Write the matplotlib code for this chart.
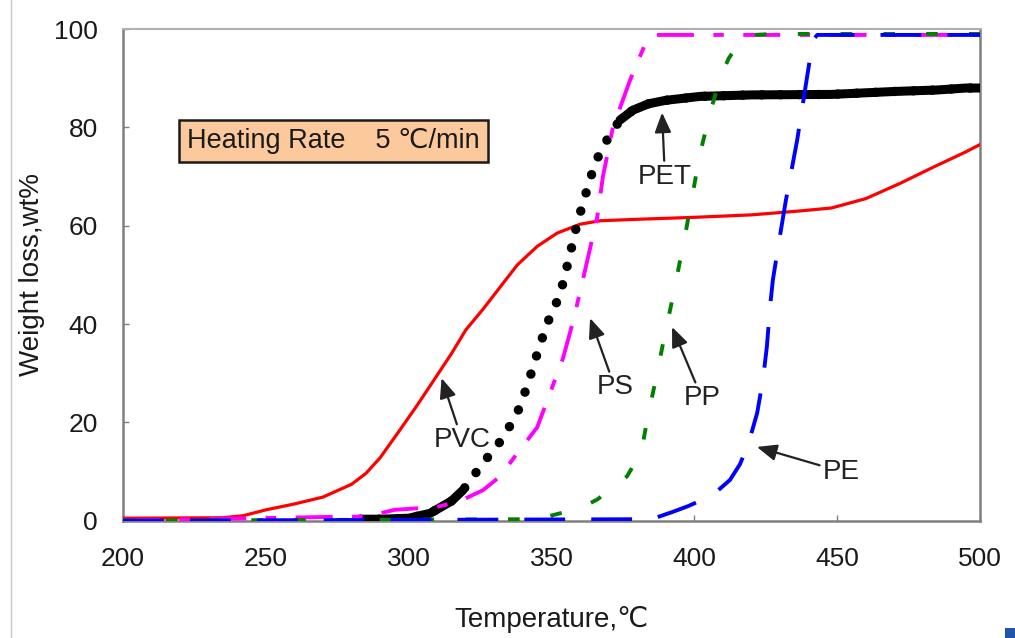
import numpy as np
import matplotlib.pyplot as plt
from matplotlib.lines import Line2D
from matplotlib.patches import Rectangle

plt.rcParams["font.family"] = ["Liberation Sans", "DejaVu Sans"]

# TGA weight loss curves
PVC_T = [200, 235, 242, 250, 260, 270, 280, 285, 290, 297, 303, 308.5, 315, 320, 326, 332,
         338, 345, 352, 360, 367, 380, 400, 420, 437, 448, 460, 472, 484, 495, 500]
PVC_W = [0.5, 0.6, 1.0, 2.2, 3.4, 4.8, 7.4, 9.6, 12.8, 18.5, 23.5, 28.3, 34.0, 38.8, 43.0, 47.5,
         52.0, 55.8, 58.5, 60.3, 61.0, 61.3, 61.7, 62.2, 63.0, 63.6, 65.5, 68.6, 72.0, 75.0, 76.5]

PET_T = [283, 290, 300, 307.5, 315, 319, 326, 333, 338, 341.4, 345, 348.4, 353, 356, 359,
         362, 364.5, 367, 370.5, 374, 378.5, 384, 390, 402, 420, 448, 470, 485, 495, 500]
PET_W = [0.3, 0.3, 0.5, 1.5, 4.0, 6.2, 11.7, 16.8, 21.9, 27.2, 34.0, 40.0, 46.0, 53.0, 60.5,
         66.5, 71.3, 75.0, 78.5, 81.5, 83.5, 84.8, 85.5, 86.3, 86.6, 86.7, 87.3, 87.6, 88.0, 88.0]

PS_T = [200, 275, 285, 295, 300, 305, 308, 318, 326, 332, 338, 345, 349.5, 354, 357.5,
        360.7, 366, 368, 371.5, 377.5, 383.4, 386, 500]
PS_W = [0.0, 0.8, 0.8, 2.2, 2.4, 2.6, 2.5, 4.0, 6.2, 9.0, 13.7, 19.0, 26.0, 33.0, 40.4,
        48.3, 61.7, 70.0, 80.0, 89.6, 97.8, 98.8, 98.8]

PP_T = [200, 345, 353, 360, 366, 371, 376.4, 380, 382, 384, 387, 389.7, 392.5, 397.4,
        402, 405.5, 409, 412, 416, 421, 427.5, 500]
PP_W = [0.0, 0.3, 1.5, 2.5, 4.3, 6.5, 9.0, 12.5, 15.8, 22.0, 30.0, 38.0, 45.5, 60.0,
        74.7, 82.9, 90.0, 94.0, 97.4, 98.8, 99.0, 99.0]

PE_T = [200, 385, 392.5, 398, 403, 408, 412.5, 416, 419, 422, 424, 425.4, 426.5, 427.5,
        430, 432, 436, 439.4, 441.5, 443, 500]
PE_W = [0.0, 0.3, 1.8, 3.0, 4.3, 6.0, 8.3, 11.5, 15.8, 21.9, 28.6, 35.4, 43.5, 49.0,
        58.0, 65.0, 77.4, 90.0, 97.7, 98.8, 98.8]

# label, text position, arrow tip
LABELS = ["PVC", "PS", "PP", "PE", "PET"]
LABEL_XY = [(318.7, 16.4), (372.2, 27.1), (402.7, 24.9), (451.3, 10.0), (389.7, 70.0)]
ARROW_XY = [(311.5, 29.0), (363.5, 41.2), (392.2, 39.4), (421.9, 15.0), (388.7, 83.0)]

X_TICKS = [200, 250, 300, 350, 400, 450, 500]
Y_TICKS = [0, 20, 40, 60, 80, 100]

fig = plt.figure(figsize=(10.15, 6.38), dpi=100)
ax = fig.add_axes([0.1212, 0.1839, 0.8443, 0.7706])

ax.plot(PVC_T, PVC_W, color="#ff0000", lw=2.3, zorder=3)

# PET: dotted where it rises fast, thick solid where dots pile up
pet_T = np.array(PET_T)
pet_W = np.array(PET_W)
ax.plot(pet_T, pet_W, color="black", lw=6.8, linestyle=(0, (0.01, 2.0)),
        dash_capstyle="round", zorder=4)
ax.plot(pet_T, np.where(pet_T <= 320, pet_W, np.nan), color="black", lw=6.5,
        solid_capstyle="round", zorder=4)
ax.plot(pet_T, np.where(pet_T >= 372, pet_W, np.nan), color="black", lw=6.5,
        solid_capstyle="round", zorder=4)

ax.plot(PS_T, PS_W, color="#ff00ff", lw=2.8, linestyle=(0, (9.5, 5, 2.7, 5)), zorder=5)
ax.plot(PP_T, PP_W, color="#008000", lw=2.8, linestyle=(0, (3, 8)), zorder=5)
ax.plot(PE_T, PE_W, color="#0000ff", lw=2.8, linestyle=(0, (10.5, 6.7)), zorder=5)

for label, xy_text, xy_tip in zip(LABELS, LABEL_XY, ARROW_XY):
    ax.annotate(label, xy=xy_tip, xytext=xy_text, ha="center", va="center",
                fontsize=20, color="#222222", zorder=6,
                arrowprops=dict(arrowstyle="-|>,head_length=0.6,head_width=0.25",
                                color="#222222", lw=1.6, shrinkA=0, shrinkB=0))

ax.text(222.5, 77.2, "Heating Rate    5 \u2103/min", fontsize=19.5, va="center",
        ha="left", color="#1a1a1a", zorder=6,
        bbox=dict(boxstyle="square,pad=0.3", fc="#fbc99b", ec="#1a1a1a", lw=1.8))

ax.set_xlim(200, 500)
ax.set_ylim(0, 100)
ax.set_xticks(X_TICKS)
ax.set_yticks(Y_TICKS)
ax.tick_params(axis="both", direction="in", length=4, width=1, color="#808080",
               labelsize=19, labelcolor="#1a1a1a")
ax.tick_params(axis="x", pad=19)
ax.tick_params(axis="y", pad=18)

for side in ["left", "right", "bottom"]:
    ax.spines[side].set_color("#808080")
    ax.spines[side].set_linewidth(1.8)
ax.spines["top"].set_color("#b0b0b0")
ax.spines["top"].set_linewidth(1.5)

ax.set_xlabel("Temperature,\u2103", fontsize=20, color="#1a1a1a")
ax.xaxis.label.set_va("center")
ax.xaxis.set_label_coords(0.5, -0.202)
ax.set_ylabel("Weight loss,wt%", fontsize=20, color="#1a1a1a")
ax.yaxis.label.set_va("center")
ax.yaxis.set_label_coords(-0.106, 0.5)

# bits of the scanned page edge
fig.add_artist(Line2D([11 / 1015, 11 / 1015], [0, 1], color="#c8c8c8", lw=1))
fig.add_artist(Rectangle((1005 / 1015, 0), 10 / 1015, 10 / 638, color="#2255aa", lw=0))

fig.savefig("out.png", dpi=100)
